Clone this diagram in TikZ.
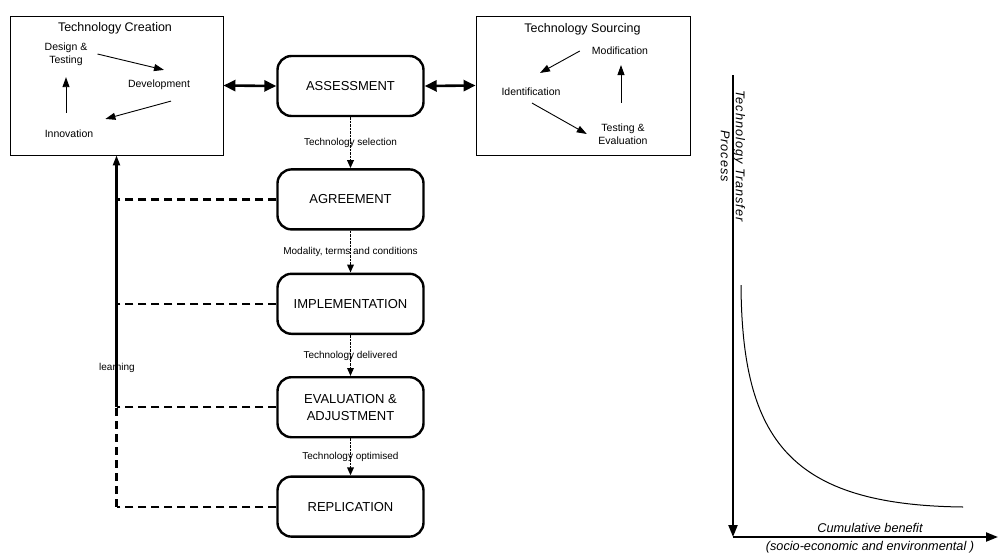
\documentclass[tikz,border=0pt]{standalone}
\usepackage{fontspec}
\setmainfont{Liberation Sans}
\newfontfamily\spacedfont[LetterSpace=8]{Liberation Sans}
\usetikzlibrary{positioning,arrows.meta,calc}

\begin{document}
\begin{tikzpicture}[
    x=1pt, y=-1pt,
    >={Triangle[length=10pt,width=7pt]},
    stagebox/.style={
        draw,
        rounded corners=14pt,
        line width=2.4pt,
        minimum width=146pt,
        minimum height=60pt,
        align=center,
        font=\fontsize{13}{17}\selectfont
    },
    groupbox/.style={
        draw,
        line width=0.9pt,
        minimum width=213pt,
        minimum height=139pt
    },
    grouptitle/.style={font=\fontsize{12.5}{15}\selectfont},
    stepname/.style={font=\fontsize{10.5}{13}\selectfont, align=center, inner sep=1pt},
    flowlabel/.style={font=\fontsize{10}{12}\selectfont, inner sep=1pt},
    axislabel/.style={font=\fontsize{12.7}{15}\selectfont\itshape, align=center, inner sep=0pt},
    cycle/.style={->, line width=0.9pt},
    link/.style={{Triangle[length=12pt,width=11pt]}-{Triangle[length=12pt,width=11pt]}, line width=2.6pt},
    flow/.style={->, >={Triangle[length=8pt,width=6.5pt]}, line width=1.7pt, dash pattern=on 2.5pt off 1pt},
    feedback/.style={line width=2.2pt, dash pattern=on 8pt off 5pt},
    axis/.style={->, >={Triangle[length=12pt,width=9pt]}, line width=2.2pt}
]
\useasboundingbox (0,0) rectangle (999,552);

% Stages
\node[stagebox] (assess) at (350.5,86) {ASSESSMENT};
\node[stagebox, below=51pt of assess] (agree) {AGREEMENT};
\node[stagebox, below=42pt of agree] (impl) {IMPLEMENTATION};
\node[stagebox, below=41pt of impl] (eval) {EVALUATION \&\\ADJUSTMENT};
\node[stagebox, below=37pt of eval] (repl) {REPLICATION};

% Technology Creation
\node[groupbox] (creation) at (116.5,85.5) {};
\node[grouptitle] (creationtitle) at (115,28) {Technology Creation};
\node[stepname] (design) at (66,54) {Design \&\\Testing};
\node[stepname] (develop) at (159,85) {Development};
\node[stepname] (innov) at (69,134) {Innovation};

\draw[cycle] ([xshift=9pt]design.east) -- ([shift={(5pt,9pt)}]develop.north);
\draw[cycle] ([shift={(12pt,-10pt)}]develop.south) -- ([shift={(11pt,10pt)}]innov.north east);
\draw[cycle] ([shift={(-3pt,16pt)}]innov.north) -- ([yshift=-10.6pt]design.south);

% Technology Sourcing
\node[groupbox, minimum width=214pt] (sourcing) at (583,85.5) {};
\node[grouptitle] (sourcingtitle) at (582.5,29) {Technology Sourcing};
\node[stepname] (modif) at (620,51) {Modification};
\node[stepname] (ident) at (531,92) {Identification};
\node[stepname] (testing) at (623,134) {Testing \&\\Evaluation};

\draw[cycle] ([xshift=-11pt]modif.west) -- ([shift={(9pt,14pt)}]ident.north);
\draw[cycle] ([shift={(1pt,-6pt)}]ident.south) -- ([xshift=-10.5pt]testing.west);
\draw[cycle] ([shift={(-2pt,19.7pt)}]testing.north) -- ([shift={(1pt,-9pt)}]modif.south);

% Links to assessment
\draw[link] (creation.east) -- (assess.west);
\draw[link] (assess.east) -- (sourcing.west);

% Flow between stages
\draw[flow] (assess) -- (agree) node[flowlabel, midway] {Technology selection};
\draw[flow] (agree) -- (impl) node[flowlabel, midway] {Modality, terms and conditions};
\draw[flow] (impl) -- (eval) node[flowlabel, midway] {Technology delivered};
\draw[flow] (eval) -- (repl) node[flowlabel, midway] {Technology optimised};

% Learning feedback
\draw[feedback] (agree.west) -- (agree.west -| creation.south);
\draw[feedback] (impl.west) -- (impl.west -| creation.south);
\draw[feedback] (eval.west) -- (eval.west -| creation.south);
\draw[feedback] (repl.west) -- (repl.west -| creation.south);
\draw[feedback] (repl.west -| creation.south) -- (eval.west -| creation.south);
\draw[->, line width=2.2pt] (eval.west -| creation.south) -- (creation.south);
\node[flowlabel] (learning) at (117,368) {learning};

% Benefit curve
\coordinate (ytop) at (733,75);
\coordinate (origin) at (733,537);
\coordinate (xend) at (998,537);
\draw[axis] (ytop) -- (origin);
\draw[axis] (origin) -- (xend);
\draw[line width=1pt] (741,285) .. controls (742,440) and (790,505) .. (963,507);
\node[axislabel, rotate=-90] (ylabel) at (733,156) {\spacedfont\itshape Technology Transfer\\\spacedfont\itshape Process};
\node[axislabel] (xlabel) at (870,528) {Cumulative benefit};
\node[axislabel] (xnote) at (870,547) {(socio-economic and environmental )};

\end{tikzpicture}
\end{document}
